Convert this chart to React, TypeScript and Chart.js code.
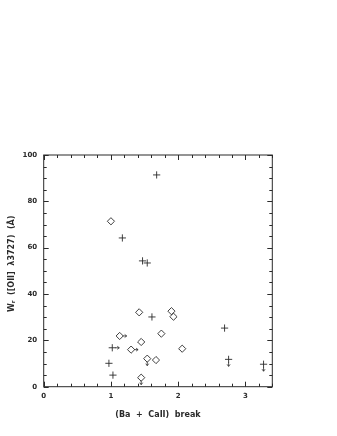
import React, { useEffect, useRef } from "react";
import { Chart, registerables } from "chart.js";

Chart.register(...registerables);

// Diamonds (open)
const diamondX = [1.0, 1.42, 1.90, 1.93, 1.75, 1.13, 1.45, 1.30, 2.06, 1.54, 1.67, 1.45];
const diamondY = [71.4, 32.1, 32.6, 30.2, 22.9, 21.9, 19.3, 16.0, 16.4, 12.1, 11.5, 3.9];
// arrow: "r" = lower limit in x (right arrow), "d" = upper limit in y (down arrow), "" = none
const diamondArrow = ["", "", "", "", "", "r", "", "r", "", "d", "", "d"];

// Crosses
const plusX = [1.68, 1.17, 1.47, 1.54, 1.61, 2.69, 1.02, 2.75, 0.97, 3.27, 1.03];
const plusY = [91.4, 64.2, 54.3, 53.4, 30.1, 25.3, 16.8, 11.8, 10.1, 9.7, 5.0];
const plusArrow = ["", "", "", "", "", "", "r", "d", "", "d", ""];

const xTicks = [0, 1, 2, 3];
const yTicks = [0, 20, 40, 60, 80, 100];

const INK = "#2a2a2a";
const FONT_FAMILY = "DejaVu Sans";

const frameTicks = {
  id: "frameTicks",
  afterDatasetsDraw(chart: any) {
    const { ctx, chartArea: a, scales } = chart;
    const xs = scales.x, ys = scales.y;
    ctx.save();
    ctx.strokeStyle = INK;
    ctx.lineWidth = 1;
    ctx.strokeRect(a.left, a.top, a.right - a.left, a.bottom - a.top);
    for (let i = 0; i <= 17; i++) {
      const v = i * 0.2;
      const px = Math.round(xs.getPixelForValue(v)) + 0.5;
      const major = Math.abs(v - Math.round(v)) < 1e-6;
      const len = major ? 5 : 3;
      ctx.beginPath();
      ctx.moveTo(px, a.bottom); ctx.lineTo(px, a.bottom - len);
      ctx.moveTo(px, a.top); ctx.lineTo(px, a.top + len);
      ctx.stroke();
    }
    for (let v = 0; v <= 100; v += 5) {
      const py = Math.round(ys.getPixelForValue(v)) + 0.5;
      const major = v % 20 === 0;
      const len = major ? 5 : 3;
      ctx.beginPath();
      ctx.moveTo(a.left, py); ctx.lineTo(a.left + len, py);
      ctx.moveTo(a.right, py); ctx.lineTo(a.right - len, py);
      ctx.stroke();
    }
    const drawArrows = (X: number[], Y: number[], A: string[]) => {
      for (let i = 0; i < X.length; i++) {
        if (!A[i]) continue;
        const px = xs.getPixelForValue(X[i]);
        const py = ys.getPixelForValue(Y[i]);
        ctx.beginPath();
        if (A[i] === "r") {
          const x0 = px + 3, x1 = px + 7;
          ctx.moveTo(x0, py); ctx.lineTo(x1, py);
          ctx.moveTo(x1 - 2, py - 1.5); ctx.lineTo(x1, py); ctx.lineTo(x1 - 2, py + 1.5);
        } else {
          const y0 = py + 3, y1 = py + 7;
          ctx.moveTo(px, y0); ctx.lineTo(px, y1);
          ctx.moveTo(px - 1.5, y1 - 2); ctx.lineTo(px, y1); ctx.lineTo(px + 1.5, y1 - 2);
        }
        ctx.stroke();
      }
    };
    ctx.lineWidth = 0.8;
    drawArrows(diamondX, diamondY, diamondArrow);
    drawArrows(plusX, plusY, plusArrow);

    // y-axis title with subscript
    const cy = (a.top + a.bottom) / 2 - 7;
    ctx.translate(12, cy);
    ctx.rotate(-Math.PI / 2);
    ctx.fillStyle = INK;
    ctx.textBaseline = "middle";
    const big = `bold 8px "${FONT_FAMILY}"`;
    const small = `bold 5.5px "${FONT_FAMILY}"`;
    const main = "W";
    const sub = "r";
    const rest = "  ([OII]  \u03bb3727)  (\u00c5)";
    ctx.font = big;
    const wMain = ctx.measureText(main).width;
    const wRest = ctx.measureText(rest).width;
    ctx.font = small;
    const wSub = ctx.measureText(sub).width;
    let x = -(wMain + wSub + wRest) / 2;
    ctx.font = big;
    ctx.fillText(main, x, 0);
    x += wMain;
    ctx.font = small;
    ctx.fillText(sub, x, 2);
    x += wSub;
    ctx.font = big;
    ctx.fillText(rest, x, 0);
    ctx.restore();
  },
};

export default function App() {
  const ref = useRef<HTMLCanvasElement>(null);
  useEffect(() => {
    const font = { family: FONT_FAMILY, size: 7, weight: "bold" as const };
    const titleFont = { family: FONT_FAMILY, size: 8, weight: "bold" as const };
    const chart = new Chart(ref.current!, {
      type: "scatter",
      data: {
        datasets: [
          {
            data: diamondX.map((x, i) => ({ x, y: diamondY[i] })),
            pointStyle: "rectRot",
            pointRadius: 3.6,
            borderColor: INK,
            backgroundColor: "rgba(0,0,0,0)",
            borderWidth: 0.9,
          },
          {
            data: plusX.map((x, i) => ({ x, y: plusY[i] })),
            pointStyle: "cross",
            pointRadius: 3.6,
            borderColor: INK,
            backgroundColor: INK,
            borderWidth: 0.9,
          },
        ],
      },
      options: {
        animation: false,
        responsive: false,
        layout: { padding: { left: 0, top: 155, right: 64.7, bottom: 16 } },
        plugins: { legend: { display: false }, tooltip: { enabled: false } },
        scales: {
          x: {
            type: "linear",
            min: 0,
            max: 3.4,
            afterBuildTicks: (s: any) => { s.ticks = xTicks.map((v) => ({ value: v })); },
            afterFit: (s: any) => { s.height = 33.3; },
            grid: { display: false, drawTicks: false },
            border: { display: false },
            ticks: { color: INK, font, padding: 5, maxRotation: 0, callback: (v: any) => String(v) },
            title: { display: true, text: "(Ba  +  CaII)  break", color: INK, font: titleFont, padding: { top: 4, bottom: 0 } },
          },
          y: {
            type: "linear",
            min: 0,
            max: 100,
            afterBuildTicks: (s: any) => { s.ticks = yTicks.map((v) => ({ value: v })); },
            afterFit: (s: any) => { s.width = 43.7; },
            grid: { display: false, drawTicks: false },
            border: { display: false },
            ticks: { color: INK, font, padding: 6.5, callback: (v: any) => String(v) },
            title: { display: false },
          },
        },
      },
      plugins: [frameTicks],
    } as any);
    return () => chart.destroy();
  }, []);
  return (
    <div style={{ position: "fixed", left: 0, top: 0, width: 337, height: 436, background: "#fff" }}>
      <canvas ref={ref} width={337} height={436} />
    </div>
  );
}
